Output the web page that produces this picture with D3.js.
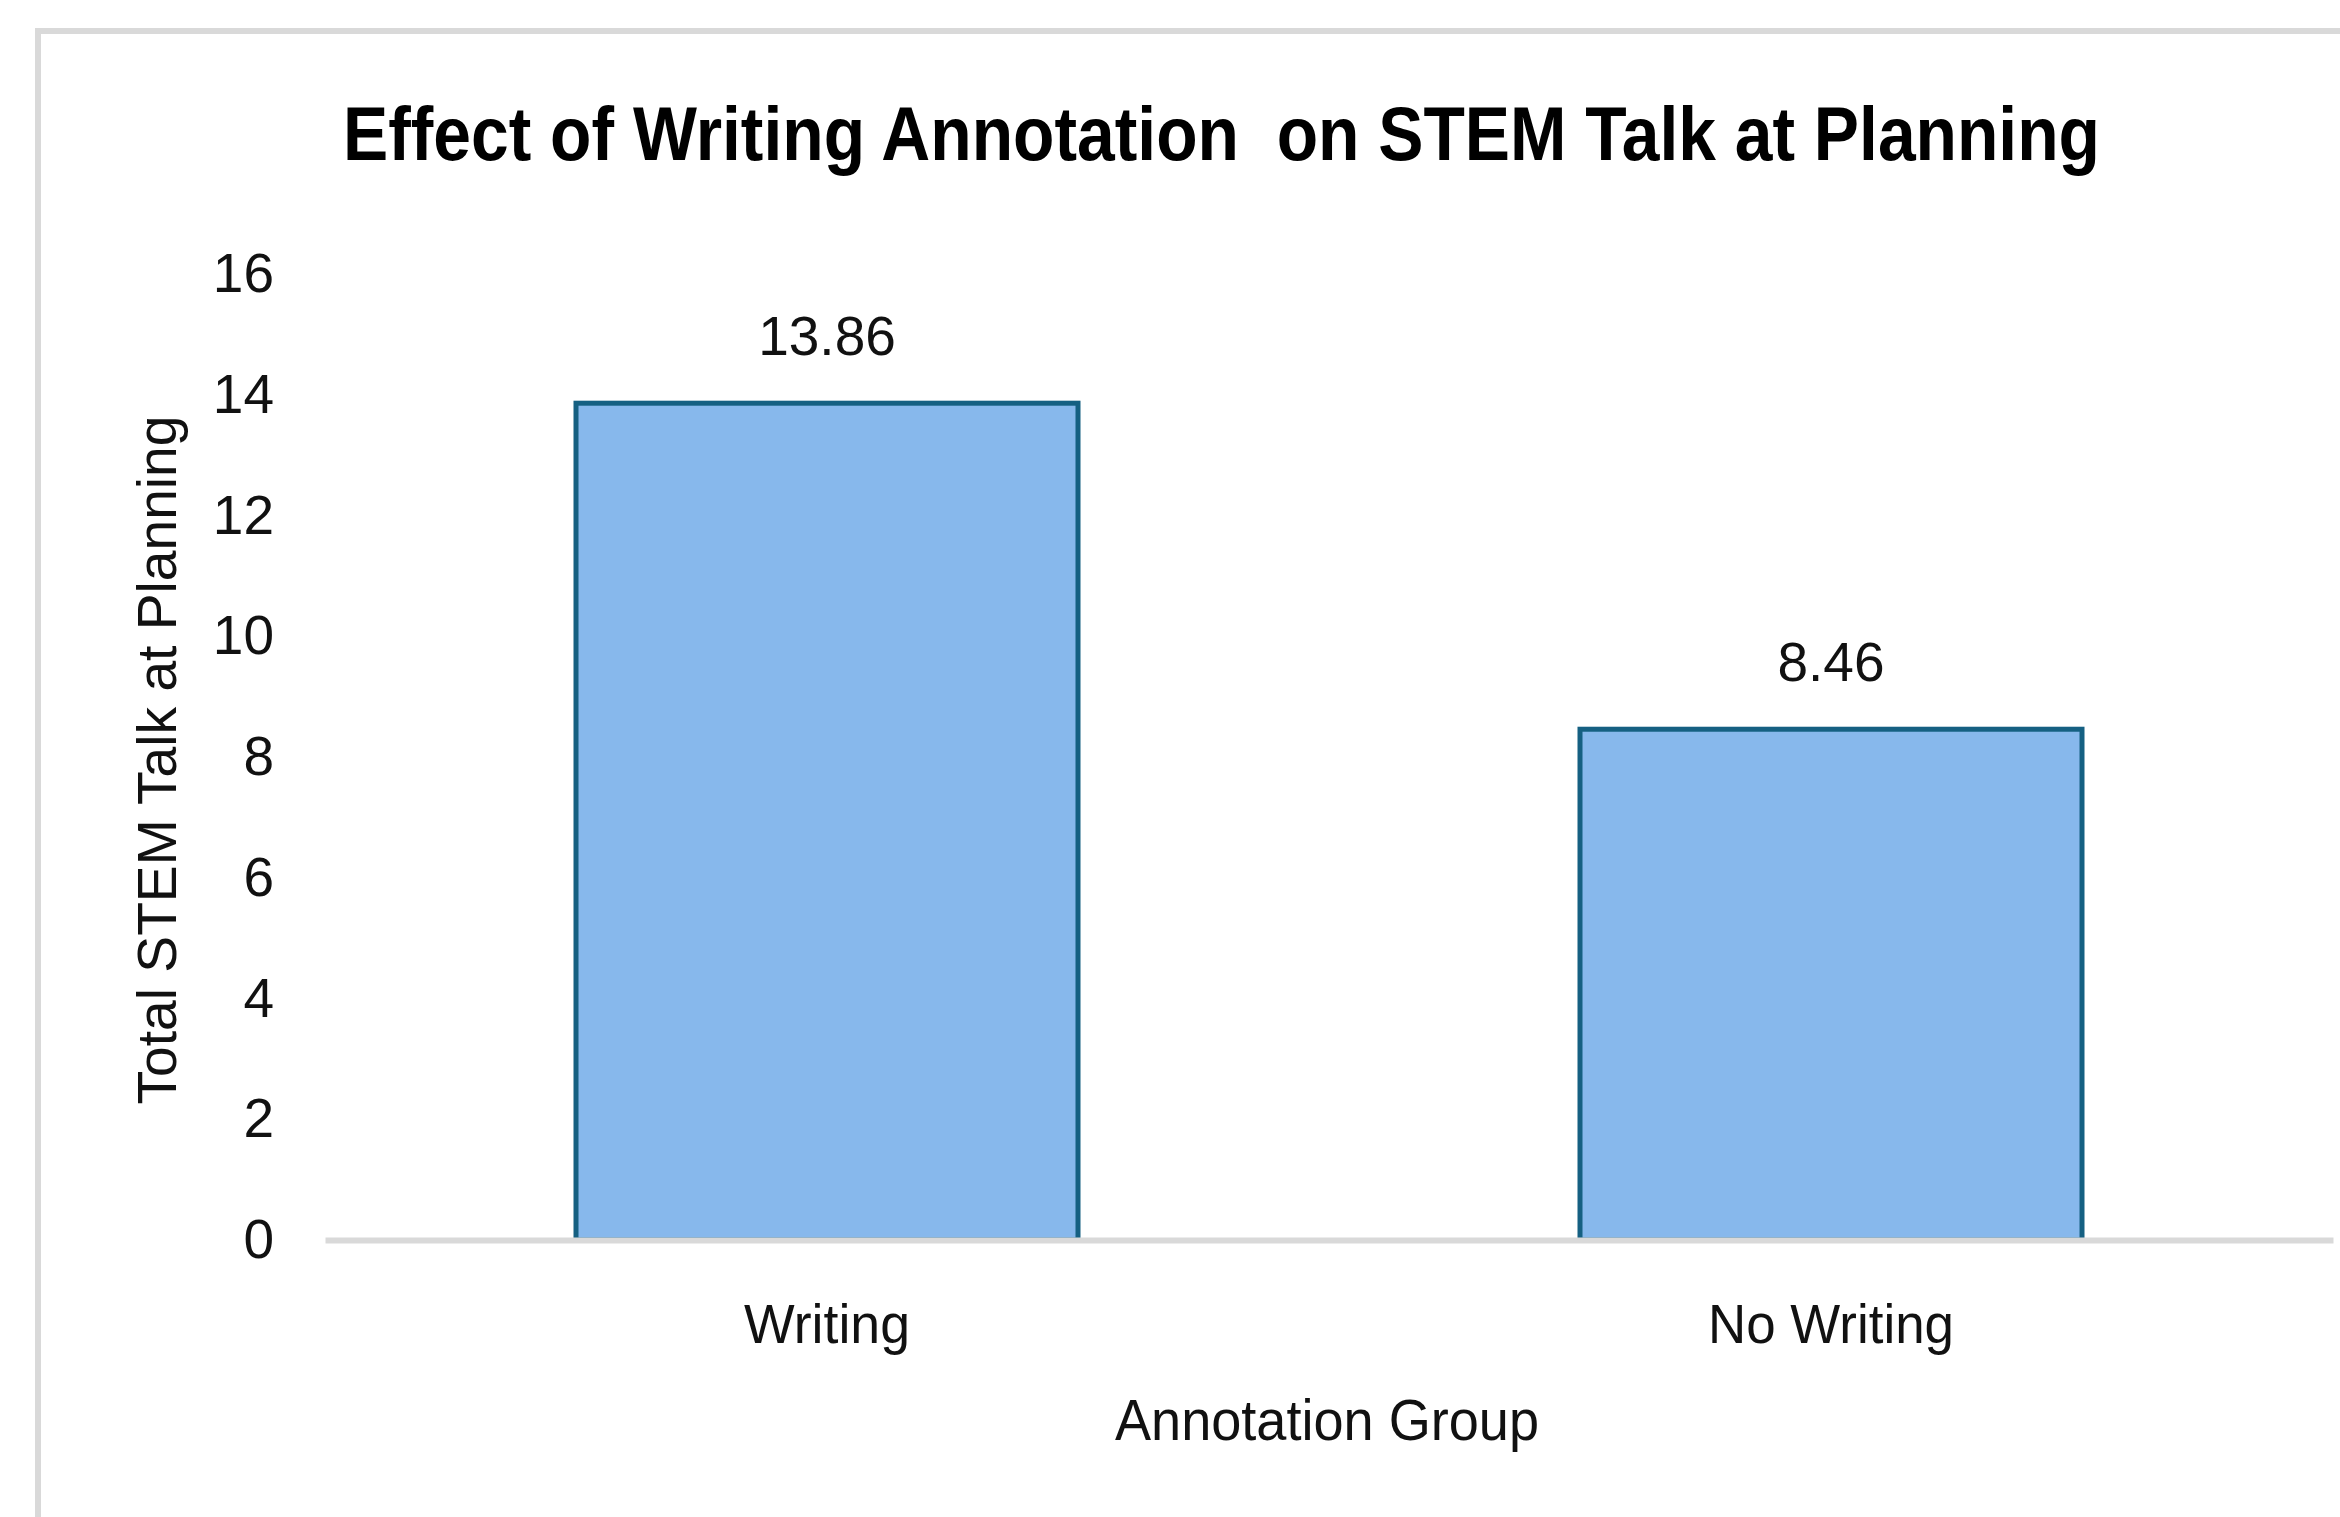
<!DOCTYPE html>
<html>
<head>
<meta charset="utf-8">
<script src="https://cdn.jsdelivr.net/npm/d3@7"></script>
<style>
  html, body { margin: 0; padding: 0; background: #fff; }
  svg { display: block; }
</style>
</head>
<body>
<div id="chart"></div>
<script>
// data
const groups = ["Writing", "No Writing"];
const talkTotals = [13.86, 8.46];
const yTicks = [0, 2, 4, 6, 8, 10, 12, 14, 16];

const W = 2340, H = 1517;
const margin = { top: 274, right: 7, bottom: 277, left: 325 };

const svg = d3.select("#chart")
  .append("svg")
  .attr("width", W)
  .attr("height", H);

// outer frame (only the top and left edges show)
svg.append("rect")
  .attr("x", 38).attr("y", 31)
  .attr("width", W + 100).attr("height", H + 100)
  .attr("fill", "#fff")
  .attr("stroke", "#d9d9d9")
  .attr("stroke-width", 6);

const x = d3.scaleBand()
  .domain(groups)
  .range([margin.left, W - margin.right])
  .paddingInner(0.5)
  .paddingOuter(0.25);

const y = d3.scaleLinear()
  .domain([0, 16])
  .range([H - margin.bottom, margin.top]);

// title
svg.append("text")
  .attr("x", 343)
  .attr("y", 160)
  .attr("textLength", 1757)
  .attr("lengthAdjust", "spacingAndGlyphs")
  .style("font-family", "'Liberation Sans', Arial, sans-serif")
  .style("font-weight", "bold")
  .style("font-size", "76px")
  .style("white-space", "pre")
  .attr("fill", "#000")
  .text("Effect of Writing Annotation  on STEM Talk at Planning");

// y axis labels
const yAxis = svg.append("g")
  .attr("transform", "translate(" + margin.left + ",0)")
  .call(d3.axisLeft(y).tickValues(yTicks).tickSize(0).tickPadding(51));
yAxis.select(".domain").remove();
yAxis.selectAll("text")
  .style("font-family", "'Liberation Sans', Arial, sans-serif")
  .style("font-size", "55px")
  .attr("fill", "#111");

// bars
svg.append("g")
  .selectAll("rect")
  .data(groups)
  .enter()
  .append("rect")
  .attr("x", d => x(d))
  .attr("y", (d, i) => y(talkTotals[i]))
  .attr("width", x.bandwidth())
  .attr("height", (d, i) => y(0) - y(talkTotals[i]))
  .attr("fill", "#87b8ec")
  .attr("stroke", "#156082")
  .attr("stroke-width", 5);

// value labels
svg.append("g")
  .selectAll("text")
  .data(groups)
  .enter()
  .append("text")
  .attr("x", d => x(d) + x.bandwidth() / 2)
  .attr("y", (d, i) => y(talkTotals[i]) - 48)
  .attr("text-anchor", "middle")
  .style("font-family", "'Liberation Sans', Arial, sans-serif")
  .style("font-size", "55px")
  .attr("fill", "#111")
  .text((d, i) => talkTotals[i].toFixed(2));

// x axis (baseline + category names)
const xAxis = svg.append("g")
  .attr("transform", "translate(0," + y(0) + ")")
  .call(d3.axisBottom(x).tickSize(0));
xAxis.select(".domain")
  .attr("stroke", "#d9d9d9")
  .attr("stroke-width", 6);
const labelWidths = { "Writing": 166, "No Writing": 246 };
xAxis.selectAll("text")
  .attr("y", 103)
  .attr("dy", 0)
  .attr("textLength", d => labelWidths[d])
  .attr("lengthAdjust", "spacingAndGlyphs")
  .style("font-family", "'Liberation Sans', Arial, sans-serif")
  .style("font-size", "56px")
  .attr("fill", "#111");

// axis titles
svg.append("text")
  .attr("x", 1327)
  .attr("y", 1440)
  .attr("text-anchor", "middle")
  .attr("textLength", 424)
  .attr("lengthAdjust", "spacingAndGlyphs")
  .style("font-family", "'Liberation Sans', Arial, sans-serif")
  .style("font-size", "57px")
  .attr("fill", "#111")
  .text("Annotation Group");

svg.append("text")
  .attr("transform", "translate(176,760) rotate(-90)")
  .attr("text-anchor", "middle")
  .attr("textLength", 689)
  .attr("lengthAdjust", "spacingAndGlyphs")
  .style("font-family", "'Liberation Sans', Arial, sans-serif")
  .style("font-size", "55px")
  .attr("fill", "#111")
  .text("Total STEM Talk at Planning");
</script>
</body>
</html>
